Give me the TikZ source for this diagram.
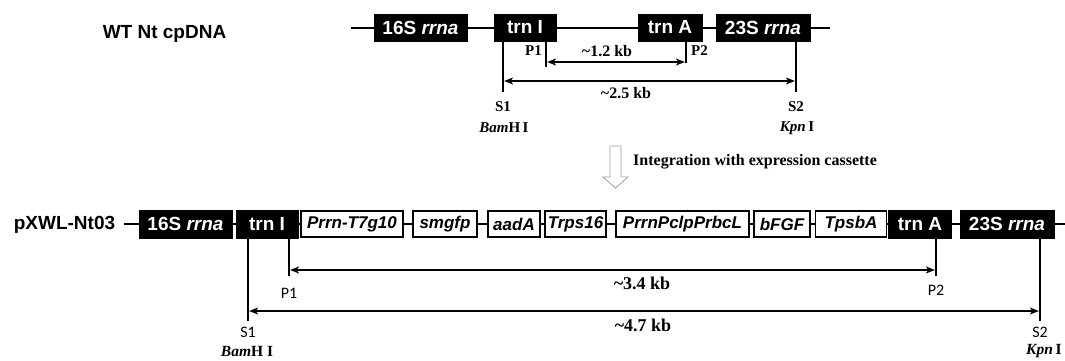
\documentclass[tikz,border=0pt]{standalone}
\usepackage{fontspec}
\setmainfont{Liberation Serif}
\newfontfamily\arialf{Liberation Sans}
\newfontfamily\calf{Carlito}
\usetikzlibrary{arrows.meta}
\begin{document}
\begin{tikzpicture}[x=1pt,y=-1pt,
  bbox/.style={draw=black, fill=black, text=white, inner sep=0pt, minimum height=27pt,
    font=\arialf\bfseries\fontsize{19}{19}\selectfont, line width=0.6pt},
  wbox/.style={draw=black, fill=white, inner sep=0pt, minimum height=26pt,
    font=\arialf\bfseries\itshape\fontsize{17}{17}\selectfont, line width=1.6pt},
  bone/.style={line width=2pt},
  vline/.style={line width=2.2pt},
  dimarrow/.style={line width=1.4pt, shorten <=1.1pt, shorten >=1.1pt,
    {Stealth[length=9pt,width=7pt,inset=2.5pt]}-{Stealth[length=9pt,width=7pt,inset=2.5pt]}},
  title/.style={font=\arialf\bfseries\fontsize{19}{19}\selectfont},
  toplab/.style={font=\bfseries\fontsize{15}{15}\selectfont, inner sep=0pt},
  kblab/.style={font=\bfseries\fontsize{16}{16}\selectfont, inner sep=0pt},
  kblabb/.style={font=\bfseries\fontsize{18}{18}\selectfont, inner sep=0pt},
  botlab/.style={font=\calf\fontsize{16}{16}\selectfont, inner sep=0pt},
  enzb/.style={font=\fontsize{15.5}{15.5}\selectfont, inner sep=0pt},
]
\useasboundingbox (0,0) rectangle (1065,360);

% ---------- top row: WT Nt cpDNA ----------
\node[title] (wt) at (164.5,33.5) {WT Nt cpDNA};
\coordinate (tstart) at (351,27.5);
\coordinate (tend) at (830,27.5);
\node[bbox, minimum width=93pt] (t16) at (420.5,27.5) {16S \itshape rrna};
\node[bbox, minimum width=62pt] (ttrnI) at (525,27.5) {trn I};
\node[bbox, minimum width=64pt] (ttrnA) at (670,27.5) {trn A};
\node[bbox, minimum width=94pt] (t23) at (763,27.5) {23S \itshape rrna};
\draw[bone] (tstart) -- (t16.west);
\draw[bone] (t16.east) -- (ttrnI.west);
\draw[bone] (ttrnI.east) -- (ttrnA.west);
\draw[bone] (ttrnA.east) -- (t23.west);
\draw[bone] (t23.east) -- (tend);

% vertical marker lines
\coordinate (ts1) at (503,92);
\coordinate (tp1) at (546,67);
\coordinate (tp2) at (686,63);
\coordinate (ts2) at (796,92);
\draw[vline] (ttrnI.south -| ts1) -- (ts1);
\draw[vline] (ttrnI.south -| tp1) -- (tp1);
\draw[vline] (ttrnA.south -| tp2) -- (tp2);
\draw[vline] (t23.south -| ts2) -- (ts2);

% dimension arrows
\coordinate (ta1l) at (546,62);
\coordinate (ta1r) at (686,62);
\coordinate (ta2l) at (503,81);
\coordinate (ta2r) at (796,81);
\draw[dimarrow] (ta1l) -- (ta1r);
\draw[dimarrow] (ta2l) -- (ta2r);

\node[toplab, anchor=east] (tp1lab) at (542,51) {P1};
\node[toplab, anchor=west] (tp2lab) at (691,51) {P2};
\node[kblab] (tkb1) at (607,51) {\textasciitilde1.2 kb};
\node[kblab] (tkb2) at (626,93) {\textasciitilde2.5 kb};
\node[toplab] (ts1lab) at (503,107) {S1};
\node[toplab] (ts2lab) at (796,107) {S2};
\node[toplab] (tbam) at (504,128) {\itshape Bam\upshape H\,I};
\node[toplab] (tkpn) at (797,128) {\itshape Kpn\upshape\,I};

% ---------- integration arrow ----------
\draw[draw=gray!75, line width=0.8pt, fill=white]
  (610,146) -- (621,146) -- (621,177) -- (628,177) -- (615.5,188) -- (603,177) -- (610,177) -- cycle;
\node[font=\bfseries\fontsize{16}{16}\selectfont, anchor=west, inner sep=0pt] (integ) at (633,162)
  {Integration with expression cassette};

% ---------- bottom row: pXWL-Nt03 ----------
\node[title] (px) at (64.5,225) {pXWL-Nt03};
\coordinate (bstart) at (124,224);
\coordinate (bend) at (1066,224);
\node[bbox, minimum width=93pt, minimum height=28pt] (b16) at (185.5,224) {16S \itshape rrna};
\node[bbox, minimum width=62pt, minimum height=28pt] (btrnI) at (267,224) {trn I};
\node[wbox, minimum width=102pt] (bprrn) at (352,224) {Prrn-T7g10};
\node[wbox, minimum width=64pt] (bgfp) at (445,224) {smgfp};
\node[wbox, minimum width=52pt] (baad) at (514,224) {aadA};
\node[wbox, minimum width=61pt] (btrps) at (575.5,224) {Trps16};
\node[wbox, minimum width=133pt] (bpclp) at (682.5,224) {PrrnPclpPrbcL};
\node[wbox, minimum width=56pt] (bfgf) at (782,224) {bFGF};
\node[wbox, minimum width=71pt] (bpsba) at (851,224) {TpsbA};
\node[bbox, minimum width=63pt, minimum height=28pt] (btrnA) at (920,224) {trn A};
\node[bbox, minimum width=94pt, minimum height=28pt] (b23) at (1007,224) {23S \itshape rrna};

\draw[bone] (bstart) -- (b16.west);
\draw[bone] (b16.east) -- (btrnI.west);
\draw[bone] (btrnI.east) -- (bprrn.west);
\draw[bone] (bprrn.east) -- (bgfp.west);
\draw[bone] (bgfp.east) -- (baad.west);
\draw[bone] (baad.east) -- (btrps.west);
\draw[bone] (btrps.east) -- (bpclp.west);
\draw[bone] (bpclp.east) -- (bfgf.west);
\draw[bone] (bfgf.east) -- (bpsba.west);
\draw[bone] (bpsba.east) -- (btrnA.west);
\draw[bone] (btrnA.east) -- (b23.west);
\draw[bone] (b23.east) -- (bend);

\coordinate (bs1) at (248,321);
\coordinate (bp1) at (289,276);
\coordinate (bp2) at (936,276);
\coordinate (bs2) at (1040,321);
\draw[vline] (btrnI.south -| bs1) -- (bs1);
\draw[vline] (btrnI.south -| bp1) -- (bp1);
\draw[vline] (btrnA.south -| bp2) -- (bp2);
\draw[vline] (b23.south -| bs2) -- (bs2);

\coordinate (ba1l) at (289,270);
\coordinate (ba1r) at (936,270);
\coordinate (ba2l) at (248,311);
\coordinate (ba2r) at (1040,311);
\draw[dimarrow] (ba1l) -- (ba1r);
\draw[dimarrow] (ba2l) -- (ba2r);

\node[kblabb] (bkb1) at (642,283) {\textasciitilde3.4 kb};
\node[kblabb] (bkb2) at (643,325) {\textasciitilde4.7 kb};
\node[botlab] (bp1lab) at (289,293) {P1};
\node[botlab] (bp2lab) at (936,290) {P2};
\node[botlab] (bs1lab) at (248,332) {S1};
\node[botlab] (bs2lab) at (1040,332) {S2};
\node[enzb] (bbam) at (247,351) {\bfseries\itshape Bam\upshape H I};
\node[enzb, anchor=west] (bkpn) at (1026,351) {\bfseries\itshape Kpn\upshape\,I};
\end{tikzpicture}
\end{document}
